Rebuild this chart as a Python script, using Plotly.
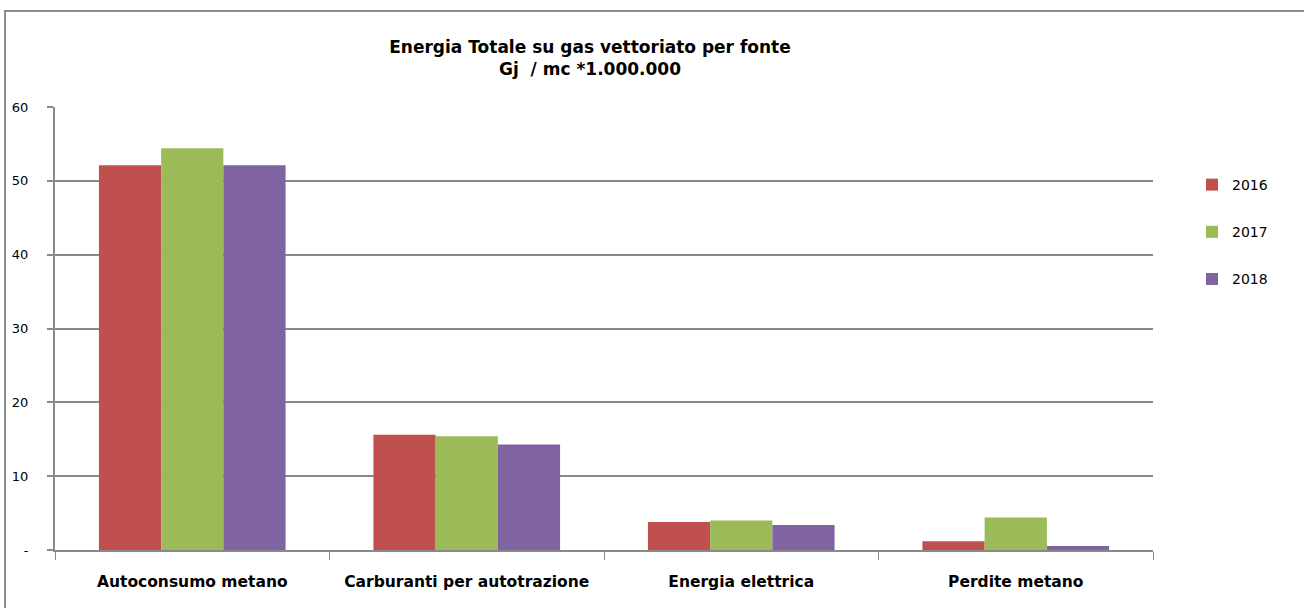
import plotly.graph_objects as go

categories = ["Autoconsumo metano", "Carburanti per autotrazione", "Energia elettrica", "Perdite metano"]
years = ["2016", "2017", "2018"]
values_2016 = [52.1, 15.6, 3.8, 1.2]
values_2017 = [54.4, 15.4, 4.0, 4.4]
values_2018 = [52.1, 14.3, 3.4, 0.55]
colors = ["#C0504D", "#9BBB59", "#8064A2"]
ytick_vals = [0, 10, 20, 30, 40, 50, 60]
ytick_text = ["-", "10", "20", "30", "40", "50", "60"]
title_text = "Energia Totale su gas vettoriato per fonte<br>Gj  / mc *1.000.000"

FONT = "DejaVu Sans, sans-serif"
GRID = "#898989"

fig = go.Figure()
for name, vals, col in zip(years, [values_2016, values_2017, values_2018], colors):
    fig.add_trace(go.Bar(x=categories, y=vals, name=name, marker_color=col,
                         marker_line_width=0, legendgroup=name))

fig.update_layout(
    width=1304, height=608,
    margin=dict(l=55, r=151, t=107, b=58),
    paper_bgcolor="white", plot_bgcolor="white",
    barmode="group", bargap=0.32, bargroupgap=0,
    font=dict(family=FONT, color="#000000"),
    title=dict(text=title_text, x=(590 - 55) / 1098, xref="paper", xanchor="center",
               y=1 - 53 / 608, yref="container", yanchor="middle",
               font=dict(size=17, family=FONT, color="#000000", weight="bold")),
    legend=dict(x=(1192 - 55) / 1098, xanchor="left", y=0.86, yanchor="top",
                font=dict(size=14, family=FONT), tracegroupgap=26,
                itemwidth=30, bgcolor="rgba(0,0,0,0)"),
    shapes=[dict(type="rect", xref="paper", yref="paper",
                 x0=-50 / 1098, x1=1.15, y0=-0.2, y1=(550 - 11) / 443,
                 line=dict(color="#8c8c8c", width=2), fillcolor="rgba(0,0,0,0)", layer="below")],
)
fig.update_xaxes(showline=True, linecolor=GRID, linewidth=2, ticks="outside", tickson="boundaries",
                 ticklen=8, tickcolor=GRID, tickwidth=1, showgrid=False,
                 tickfont=dict(size=15.5, family=FONT, weight="bold", color="#000"),
                 ticklabelstandoff=16)
fig.update_yaxes(range=[0, 60], tickvals=ytick_vals, ticktext=ytick_text,
                 showline=True, linecolor=GRID, linewidth=2, ticks="outside", ticklen=6,
                 tickcolor=GRID, tickwidth=2, showgrid=True, gridcolor=GRID, gridwidth=2,
                 zeroline=False, tickfont=dict(size=13, family=FONT, color="#000"),
                 ticklabelstandoff=16)

fig.write_html("out.html")
